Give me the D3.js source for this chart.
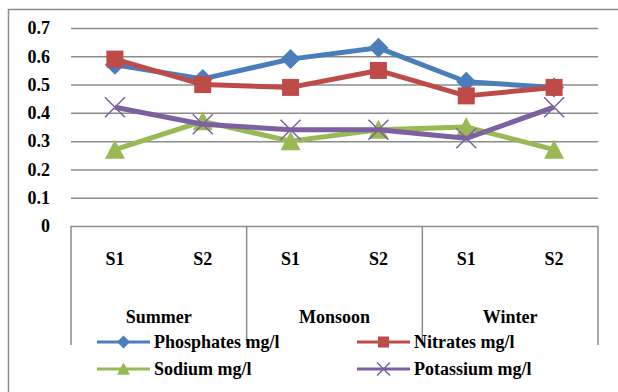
<!DOCTYPE html>
<html><head><meta charset="utf-8">
<script src="https://cdn.jsdelivr.net/npm/d3@7"></script>
<style>body{margin:0;background:#fff}svg{display:block}svg text{font-family:"Liberation Serif","Times New Roman",Tinos,serif;font-weight:bold;font-size:18px;fill:#000}</style>
</head><body>
<svg id="c" width="618" height="392"></svg>
<script>
const seasons = ["Summer", "Monsoon", "Winter"];
const sites = ["S1", "S2"];
const phosphates = [0.57, 0.52, 0.59, 0.63, 0.51, 0.49];
const nitrates   = [0.59, 0.50, 0.49, 0.55, 0.46, 0.49];
const sodium     = [0.27, 0.37, 0.30, 0.34, 0.35, 0.27];
const potassium  = [0.42, 0.36, 0.34, 0.34, 0.31, 0.42];
const seriesNames = ["Phosphates mg/l", "Nitrates mg/l", "Sodium mg/l", "Potassium mg/l"];
const yTicks = [0, 0.1, 0.2, 0.3, 0.4, 0.5, 0.6, 0.7];

(function () {
const svg = d3.select("#c");
const pL = 71, pR = 598, pT = 28, pB = 226;
const grid = "#8c8c8c";

const cats = [];
seasons.forEach(s => sites.forEach(t => cats.push(s + "|" + t)));
const x = d3.scaleBand().domain(cats).range([pL, pR]);
const xs = d3.scaleBand().domain(seasons).range([pL, pR]);
const y = d3.scaleLinear().domain([0, 0.7]).range([pB, pT]);

// frame
svg.append("path").attr("d", "M8.5,392V9.5H618").attr("fill", "none").attr("stroke", grid).attr("stroke-width", 1.5);

// y axis with gridlines
const ya = svg.append("g").attr("transform", `translate(${pL},0)`)
  .call(d3.axisLeft(y).tickValues(yTicks).tickSize(-(pR - pL)).tickPadding(21).tickFormat(d => d === 0 ? "0" : d3.format(".1f")(d)));
ya.attr("font-family", null).attr("font-size", null);
ya.select(".domain").remove();
ya.selectAll("line").attr("stroke", grid).attr("stroke-width", 1.5);
ya.selectAll("text").attr("fill", null);

// category dividers
svg.append("g").selectAll("line").data(seasons.concat(["end"])).join("line")
  .attr("x1", d => d === "end" ? pR : xs(d)).attr("x2", d => d === "end" ? pR : xs(d))
  .attr("y1", pB).attr("y2", 345).attr("stroke", grid).attr("stroke-width", 1.5);

// site labels
svg.append("g").selectAll("text").data(cats).join("text")
  .attr("x", d => x(d) + x.bandwidth() / 2).attr("y", 265)
  .attr("text-anchor", "middle")
  .text(d => d.split("|")[1]);
// season labels
svg.append("g").selectAll("text").data(seasons).join("text")
  .attr("x", d => xs(d) + xs.bandwidth() / 2).attr("y", 323)
  .attr("text-anchor", "middle")
  .text(d => d);

const colors = ["#4a7ebb", "#be4b48", "#98b954", "#7d60a0"];
const data = [phosphates, nitrates, sodium, potassium];
const shapes = ["diamond", "square", "triangle", "x"];

function marker(g, shape, color, s) {
  if (shape === "diamond") g.append("path").attr("d", `M0,${-s}L${s},0L0,${s}L${-s},0Z`).attr("fill", color);
  else if (shape === "square") g.append("rect").attr("x", -s*0.85).attr("y", -s*0.85).attr("width", s*1.7).attr("height", s*1.7).attr("fill", color);
  else if (shape === "triangle") g.append("path").attr("d", `M0,${-s}L${s},${s*0.9}L${-s},${s*0.9}Z`).attr("fill", color);
  else g.append("path").attr("d", `M${-s},${-s}L${s},${s}M${-s},${s}L${s},${-s}`).attr("stroke", color).attr("stroke-width", 1.5).attr("fill", "none");
}

const line = d3.line().x((d, i) => x(cats[i]) + x.bandwidth() / 2).y(d => y(d));
data.forEach((vals, k) => {
  svg.append("path").datum(vals).attr("d", line).attr("fill", "none").attr("stroke", colors[k]).attr("stroke-width", 5).attr("stroke-linejoin", "round");
  vals.forEach((v, i) => {
    const g = svg.append("g").attr("transform", `translate(${x(cats[i]) + x.bandwidth() / 2},${y(v)})`);
    marker(g, shapes[k], colors[k], 10);
  });
});

// legend
const lx = [97, 357], ly = [342, 369];
seriesNames.forEach((n, k) => {
  const gx = lx[k % 2], gy = ly[Math.floor(k / 2)];
  const g = svg.append("g").attr("transform", `translate(${gx},${gy})`);
  g.append("line").attr("x1", 0).attr("x2", 53).attr("y1", 0).attr("y2", 0).attr("stroke", colors[k]).attr("stroke-width", 3);
  const m = g.append("g").attr("transform", "translate(26.5,0)");
  marker(m, shapes[k], colors[k], 6.5);
  g.append("text").attr("x", 57).attr("y", 6).text(n);
});
})();
</script>
</body></html>
